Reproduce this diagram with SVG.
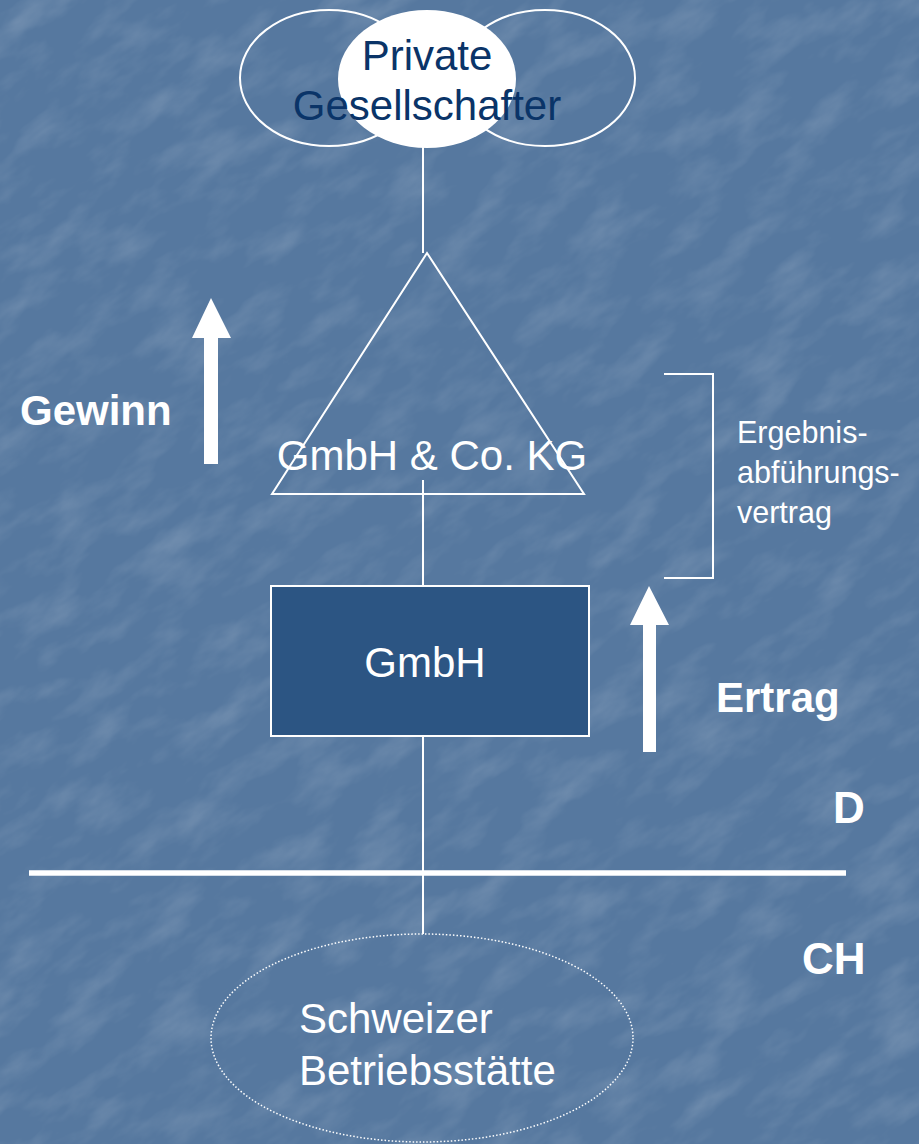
<svg xmlns="http://www.w3.org/2000/svg" width="919" height="1144" viewBox="0 0 919 1144">
  <defs>
    <filter id="marble" x="0" y="0" width="100%" height="100%">
      <feTurbulence type="fractalNoise" baseFrequency="0.015 0.035" numOctaves="4" seed="7"/>
      <feColorMatrix type="matrix" values="0 0 0 0 1  0 0 0 0 1  0 0 0 0 1  1.4 0 0 0 -0.62"/>
    </filter>
    <style>
      .bg { fill: #56789f; }
      .line { stroke: #ffffff; stroke-width: 2; fill: none; }
      .txt { font-family: "Liberation Sans", Arial, sans-serif; fill: #ffffff; }
      .big { font-size: 42px; }
      .bold { font-weight: bold; }
      .small { font-size: 30.5px; }
      .arrow { fill: #ffffff; }
    </style>
  </defs>

  <!-- textured blue backdrop -->
  <rect class="bg" x="0" y="0" width="919" height="1144"/>
  <g transform="rotate(-35 460 572)" opacity="0.22">
    <rect x="-400" y="-400" width="1720" height="1944" filter="url(#marble)"/>
  </g>

  <!-- connectors -->
  <g id="connectors" class="line">
    <line x1="423" y1="147" x2="423" y2="253"/>
    <line x1="423" y1="480" x2="423" y2="586"/>
    <line x1="423" y1="736" x2="423" y2="934"/>
    <!-- border D / CH -->
    <line x1="29" y1="873" x2="846" y2="873" stroke-width="5.5"/>
    <!-- bracket of the profit transfer agreement -->
    <polyline points="664,374 713,374 713,578 664,578"/>
  </g>

  <!-- shareholders -->
  <g id="node-private-gesellschafter">
    <ellipse class="line" cx="329" cy="78" rx="89" ry="68"/>
    <ellipse class="line" cx="545" cy="78" rx="90" ry="68"/>
    <ellipse cx="427" cy="79" rx="89" ry="69" fill="#ffffff"/>
    <text class="txt big" x="427" y="70" text-anchor="middle" style="fill:#0a3468">Private</text>
    <text class="txt big" x="427" y="120" text-anchor="middle" style="fill:#0a3468">Gesellschafter</text>
  </g>

  <!-- limited partnership -->
  <g id="node-gmbh-co-kg">
    <polygon class="line" points="427,253 584,494 272,494"/>
    <text class="txt big" x="432" y="470" text-anchor="middle" font-size="42.5">GmbH &amp; Co. KG</text>
  </g>

  <!-- limited company -->
  <g id="node-gmbh">
    <rect x="271" y="586" width="318" height="150" fill="#2c5583" stroke="#ffffff" stroke-width="2"/>
    <text class="txt big" x="425" y="677" text-anchor="middle">GmbH</text>
  </g>

  <!-- Swiss permanent establishment -->
  <g id="node-betriebsstaette">
    <ellipse cx="422" cy="1038" rx="211" ry="104" fill="none" stroke="#ffffff" stroke-width="1.5" stroke-dasharray="1.5 2"/>
    <text class="txt big" x="299" y="1033">Schweizer</text>
    <text class="txt big" x="299" y="1085">Betriebsstätte</text>
  </g>

  <!-- profit flow -->
  <g id="node-gewinn">
    <polygon class="arrow" points="211,298 231,338 218,338 218,464 204,464 204,338 192,338"/>
    <text class="txt big bold" x="20" y="425">Gewinn</text>
  </g>

  <g id="node-ertrag">
    <polygon class="arrow" points="649,586 669,625 656,625 656,752 643,752 643,625 630,625"/>
    <text class="txt big bold" x="716" y="712">Ertrag</text>
  </g>

  <g id="node-ergebnisabfuehrung">
    <text class="txt small" x="737" y="443">Ergebnis-</text>
    <text class="txt small" x="737" y="483">abführungs-</text>
    <text class="txt small" x="737" y="523">vertrag</text>
  </g>

  <g id="node-d">
    <text class="txt bold" x="833" y="823" font-size="44">D</text>
  </g>
  <g id="node-ch">
    <text class="txt bold" x="802" y="974" font-size="44">CH</text>
  </g>
</svg>
